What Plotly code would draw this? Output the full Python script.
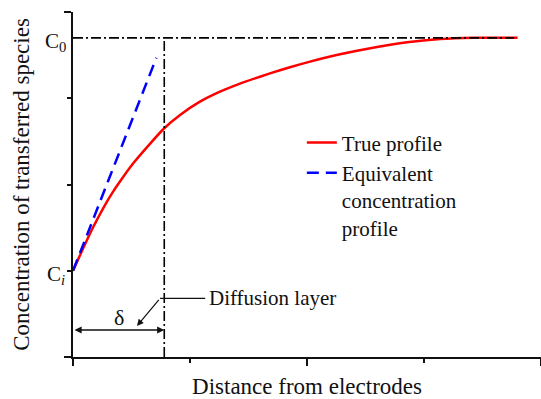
import plotly.graph_objects as go

# ---- data ----
true_x = [0, 0.09, 0.174, 0.26, 0.344, 0.43, 0.515, 0.65, 0.78, 0.915, 1.085, 1.256, 1.427,
          1.598, 1.769, 1.94, 2.111, 2.282, 2.564, 2.855, 3.137, 3.419, 3.80]
true_y = [1.00, 1.27, 1.51, 1.73, 1.92, 2.09, 2.246, 2.46, 2.652, 2.806, 2.960, 3.076, 3.17,
          3.25, 3.325, 3.393, 3.455, 3.51, 3.586, 3.649, 3.687, 3.702, 3.702]
equiv_x = [0, 0.713]
equiv_y = [1.00, 3.47]
C0 = 3.70
CI = 1.00
DELTA = 0.78
X_END = 3.77
ARROW_Y = 0.313
DELTA_LABEL_Y = 0.46
POINTER_TIP = (0.547, 0.36)
POINTER_KNEE = (0.744, 0.68)
POINTER_END_X = 1.13

FONT = "Liberation Serif"
DASHDOT = "10px,3px,2px,3px"

fig = go.Figure()

fig.add_trace(go.Scatter(x=true_x, y=true_y, mode="lines", name="True profile",
                         line=dict(color="#ff0000", width=2.5, shape="spline", smoothing=0.5)))
fig.add_trace(go.Scatter(x=equiv_x, y=equiv_y, mode="lines",
                         name="Equivalent<br>concentration<br>profile",
                         line=dict(color="#0000ff", width=2.5, dash="12px,7px")))
# reference lines (dash-dot)
fig.add_trace(go.Scatter(x=[0, X_END], y=[C0, C0], mode="lines", showlegend=False,
                         line=dict(color="#000000", width=1.6, dash=DASHDOT)))
fig.add_trace(go.Scatter(x=[DELTA, DELTA], y=[0, C0], mode="lines", showlegend=False,
                         line=dict(color="#000000", width=1.6, dash=DASHDOT)))
# pointer horizontal segment
fig.add_trace(go.Scatter(x=[POINTER_KNEE[0], POINTER_END_X], y=[POINTER_KNEE[1], POINTER_KNEE[1]],
                         mode="lines", showlegend=False, line=dict(color="#111111", width=1.2)))

annotations = [
    dict(x=0, xref="paper", y=C0, yref="y", text="C<sub>0</sub>", showarrow=False,
         xanchor="right", yanchor="middle", xshift=-5, yshift=-4,
         font=dict(family=FONT, size=21, color="#111")),
    dict(x=0, xref="paper", y=CI, yref="y", text="C<sub><i>i</i></sub>", showarrow=False,
         xanchor="right", yanchor="middle", xshift=-6, yshift=-4,
         font=dict(family=FONT, size=21, color="#111")),
    dict(x=DELTA / 2, y=DELTA_LABEL_Y, xref="x", yref="y", text="δ", showarrow=False,
         font=dict(family=FONT, size=22, color="#111")),
    # double-headed arrow for delta
    dict(x=DELTA, y=ARROW_Y, ax=0, ay=ARROW_Y, xref="x", yref="y", axref="x", ayref="y",
         text="", showarrow=True, arrowhead=2, startarrowhead=2, arrowside="end+start",
         arrowsize=1.1, startarrowsize=1.1, arrowwidth=1.3, arrowcolor="#111"),
    # pointer arrow
    dict(x=POINTER_TIP[0], y=POINTER_TIP[1], ax=POINTER_KNEE[0], ay=POINTER_KNEE[1],
         xref="x", yref="y", axref="x", ayref="y", text="", showarrow=True,
         arrowhead=2, arrowsize=1.1, arrowwidth=1.2, arrowcolor="#111"),
    dict(x=POINTER_END_X, y=POINTER_KNEE[1], xref="x", yref="y", text="Diffusion layer",
         showarrow=False, xanchor="left", yanchor="middle", xshift=2,
         font=dict(family=FONT, size=21, color="#111")),
]

axis_common = dict(showgrid=False, zeroline=False, showline=True, linecolor="#111",
                   linewidth=1.5, showticklabels=False, tickcolor="#111", tickwidth=1.5)

fig.update_layout(
    width=541, height=399,
    margin=dict(l=73, r=0, t=12, b=42),
    paper_bgcolor="white", plot_bgcolor="white",
    font=dict(family=FONT, color="#111"),
    xaxis=dict(range=[0, 4], ticks="outside", tickmode="linear", tick0=0, dtick=2, ticklen=7,
               minor=dict(dtick=1, ticks="outside", ticklen=4, tickcolor="#111", tickwidth=1.5),
               title=dict(text="Distance from electrodes", font=dict(size=23, family=FONT),
                          standoff=14),
               **axis_common),
    yaxis=dict(range=[0, 4], ticks="outside", tickmode="linear", tick0=0, dtick=4, ticklen=7,
               minor=dict(dtick=1, ticks="outside", ticklen=4, tickcolor="#111", tickwidth=1.5),
               title=dict(text="Concentration of transferred species",
                          font=dict(size=23, family=FONT), standoff=28),
               **axis_common),
    xaxis2=dict(range=[0, 4], overlaying="x", side="top", anchor="y", ticks="inside",
                tickmode="array", tickvals=[1, 2, 3], ticklen=4, **axis_common),
    yaxis2=dict(range=[0, 4], overlaying="y", side="right", anchor="x", ticks="inside",
                tickmode="array", tickvals=[1, 2, 3], ticklen=4, **axis_common),
    legend=dict(x=0.489, y=0.68, xanchor="left", yanchor="top", valign="top",
                bgcolor="rgba(0,0,0,0)", font=dict(family=FONT, size=21, color="#111"),
                tracegroupgap=0),
    annotations=annotations,
    showlegend=True,
)

fig.write_html("out.html")
